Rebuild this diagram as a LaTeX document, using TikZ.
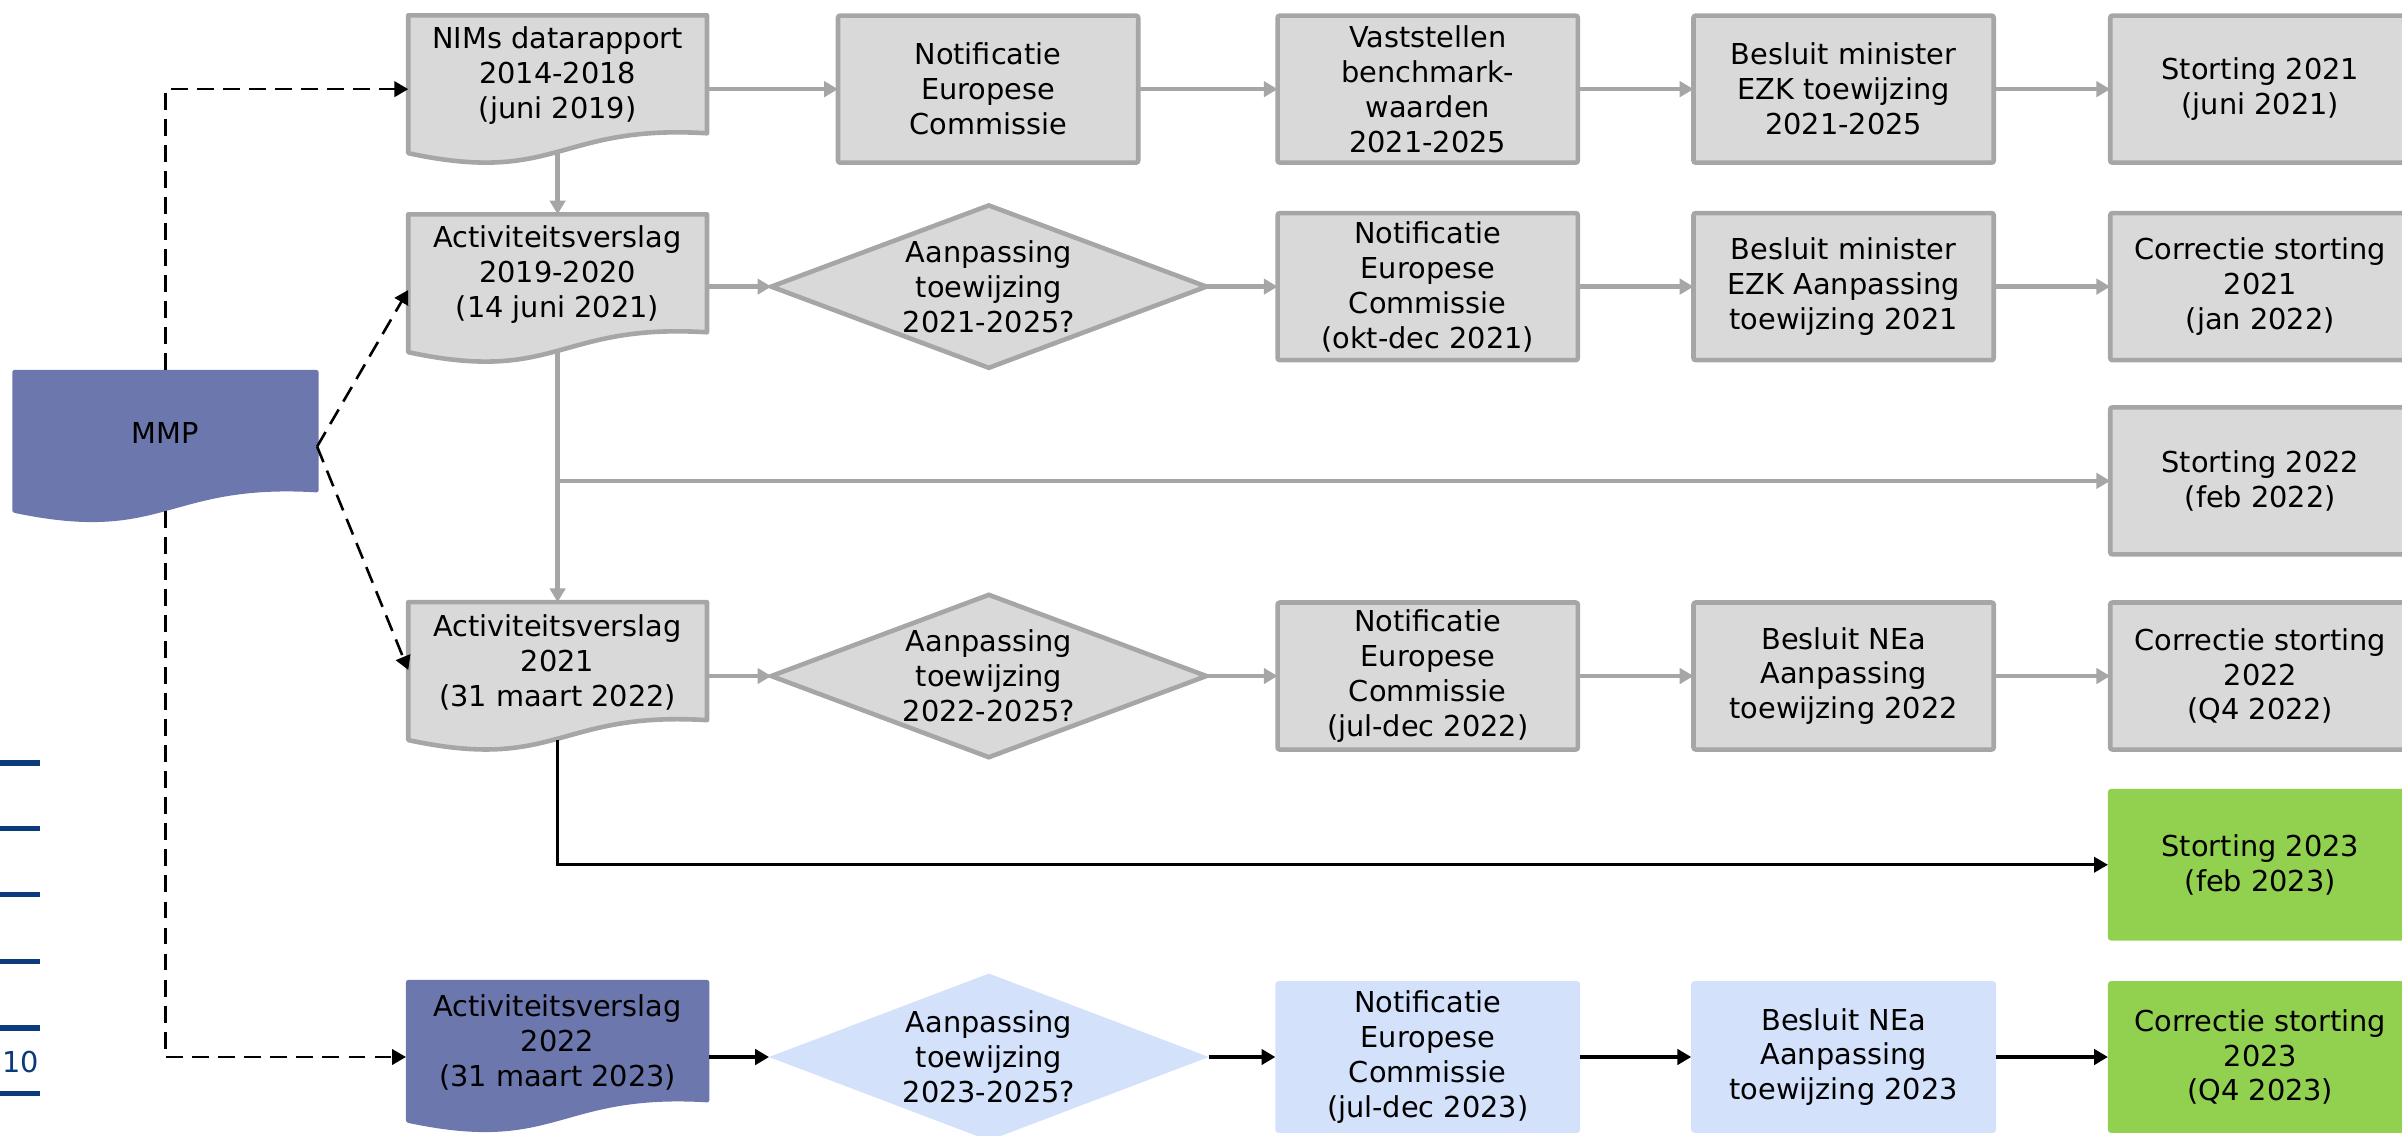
\documentclass[tikz,border=0pt]{standalone}
\usepackage{fontspec}
\setmainfont{DejaVu Sans}
\usetikzlibrary{arrows.meta,shapes.geometric,calc,backgrounds}
\definecolor{gfill}{HTML}{D9D9D9}
\definecolor{gline}{HTML}{A6A6A6}
\definecolor{mmpblue}{HTML}{6B77AD}
\definecolor{lblue}{HTML}{D4E1FB}
\definecolor{lgreen}{HTML}{92D050}
\definecolor{navyc}{HTML}{0B3B7C}
\newcommand\docpath[2]{(#1.north west) -- (#1.north east) -- ($(#1.north east)+(0,77+#2)$) .. controls ($(#1.north)+(0,71+#2)$) and ($(#1.north)+(0,111+#2)$) .. ($(#1.north west)+(0,90+#2)$) -- cycle}
\tikzset{
 txt/.style={font=\fontsize{18.8}{22.8}\selectfont, align=center, inner sep=0pt, outer sep=0pt},
 gbox/.style={txt, draw=gline, fill=gfill, line width=3pt, minimum width=196pt, minimum height=96pt, rounded corners=1.5pt},
 bbox/.style={txt, fill=lblue, minimum width=199pt, minimum height=99pt, rounded corners=2pt},
 grbox/.style={txt, fill=lgreen, minimum width=199pt, minimum height=99pt, rounded corners=2pt},
 gdia/.style={txt, diamond, aspect=2.65, draw=gline, fill=gfill, line width=3pt, minimum width=284pt, minimum height=106pt},
 bdia/.style={txt, diamond, aspect=2.65, fill=lblue, minimum width=287pt, minimum height=109pt},
 docnode/.style={txt, minimum width=195pt, minimum height=79pt, anchor=north},
 garr/.style={draw=gline, line width=3pt, -{Triangle[length=9pt,width=10pt]}},
 barr/.style={draw=black, line width=1.7pt, -{Triangle[length=9pt,width=10pt]}},
 bbarr/.style={barr, line width=2.2pt},
 darr/.style={barr, dash pattern=on 11pt off 6pt},
}
\begin{document}
\begin{tikzpicture}[x=1pt, y=-1pt]
\useasboundingbox (0,0) rectangle (1568,741);

% left page fragments
\foreach \yy in {498,541,584,627.5,671,714} \draw[navyc, line width=3.5pt] (0,\yy) -- (26,\yy);
\node[txt, text=navyc] (pg) at (13.5,693) {10};

% MMP
\node[docnode, minimum width=200pt, minimum height=82pt] (mmp) at (108,241.5) {MMP};

% row 1
\node[docnode] (nims) at (364,10) {NIMs datarapport\\2014-2018\\(juni 2019)};
\node[gbox] (n1) at (645,58.2) {Notificatie\\Europese\\Commissie};
\node[gbox] (v1) at (932,58.2) {Vaststellen\\benchmark-\\waarden\\2021-2025};
\node[gbox] (b1) at (1203.5,58.2) {Besluit minister\\EZK toewijzing\\2021-2025};
\node[gbox] (s1) at (1475.5,58.2) {Storting 2021\\(juni 2021)};

% row 2
\node[docnode] (a19) at (364,139.9) {Activiteitsverslag\\2019-2020\\(14 juni 2021)};
\node[gdia] (d2) at (645.5,187.1) {Aanpassing\\toewijzing\\2021-2025?};
\node[gbox] (n2) at (932,187.1) {Notificatie\\Europese\\Commissie\\(okt-dec 2021)};
\node[gbox] (b2) at (1203.5,187.1) {Besluit minister\\EZK Aanpassing\\toewijzing 2021};
\node[gbox] (c2) at (1475.5,187.1) {Correctie storting\\2021\\(jan 2022)};

% row 3
\node[gbox] (s3) at (1475.5,313.9) {Storting 2022\\(feb 2022)};

% row 4
\node[docnode] (a21) at (364,393.1) {Activiteitsverslag\\2021\\(31 maart 2022)};
\node[gdia] (d4) at (645.5,441.3) {Aanpassing\\toewijzing\\2022-2025?};
\node[gbox] (n4) at (932,441.3) {Notificatie\\Europese\\Commissie\\(jul-dec 2022)};
\node[gbox] (b4) at (1203.5,441.3) {Besluit NEa\\Aanpassing\\toewijzing 2022};
\node[gbox] (c4) at (1475.5,441.3) {Correctie storting\\2022\\(Q4 2022)};

% row 5
\node[grbox] (s5) at (1475.5,564.5) {Storting 2023\\(feb 2023)};

% row 6
\node[docnode, minimum width=198pt, minimum height=82pt] (a22) at (364,639.7) {Activiteitsverslag\\2022\\(31 maart 2023)};
\node[bdia] (d6) at (645.5,690) {Aanpassing\\toewijzing\\2023-2025?};
\node[bbox] (n6) at (932,690) {Notificatie\\Europese\\Commissie\\(jul-dec 2023)};
\node[bbox] (b6) at (1203.5,690) {Besluit NEa\\Aanpassing\\toewijzing 2023};
\node[grbox] (c6) at (1475.5,690) {Correctie storting\\2023\\(Q4 2023)};

% document shapes
\begin{scope}[on background layer]
\fill[mmpblue, rounded corners=1.5pt] \docpath{mmp}{3};
\fill[mmpblue, rounded corners=1.5pt] \docpath{a22}{3};
\filldraw[fill=gfill, draw=gline, line width=3pt, line join=round] \docpath{nims}{0};
\filldraw[fill=gfill, draw=gline, line width=3pt, line join=round] \docpath{a19}{0};
\filldraw[fill=gfill, draw=gline, line width=3pt, line join=round] \docpath{a21}{0};
\end{scope}

% helper coordinates
\coordinate (nimsB) at ($(nims.north)+(0,90)$);
\coordinate (a19B) at ($(a19.north)+(0,90)$);
\coordinate (a21B) at ($(a21.north)+(0,90)$);
\coordinate (br3) at (a19B |- s3.west);
\coordinate (mmpR) at ($(mmp.north east)+(-1,50)$);
\coordinate (mmpB) at ($(mmp.north)+(0,92)$);
\coordinate (a19in) at ($(a19.north west)+(0,49.4)$);
\coordinate (a21in) at ($(a21.north west)+(0,44.2)$);

% row 1 connectors
\draw[garr] (nims.east |- n1.west) -- (n1.west);
\draw[garr] (n1.east) -- (v1.west);
\draw[garr] (v1.east) -- (b1.west);
\draw[garr] (b1.east) -- (s1.west);
% row 2
\draw[garr] (a19.east |- d2.west) -- (d2.west);
\draw[garr] (d2.east) -- (n2.west);
\draw[garr] (n2.east) -- (b2.west);
\draw[garr] (b2.east) -- (c2.west);
% verticals and row 3
\draw[garr] (nimsB) -- (a19.north);
\draw[garr] (a19B) -- (a21.north);
\draw[garr] (br3) -- (s3.west);
% row 4
\draw[garr] (a21.east |- d4.west) -- (d4.west);
\draw[garr] (d4.east) -- (n4.west);
\draw[garr] (n4.east) -- (b4.west);
\draw[garr] (b4.east) -- (c4.west);
% row 5
\draw[barr] (a21B) |- (s5.west);
% row 6
\draw[bbarr] (a22.east |- d6.west) -- (d6.west);
\draw[bbarr] (d6.east) -- (n6.west);
\draw[bbarr] (n6.east) -- (b6.west);
\draw[bbarr] (b6.east) -- (c6.west);
% dashed from MMP
\draw[darr] (mmp.north) |- (nims.west |- n1.west);
\draw[darr] (mmpR) -- (a19in);
\draw[darr] (mmpR) -- (a21in);
\draw[darr] (mmpB) |- (a22.west |- d6.west);
\end{tikzpicture}
\end{document}
